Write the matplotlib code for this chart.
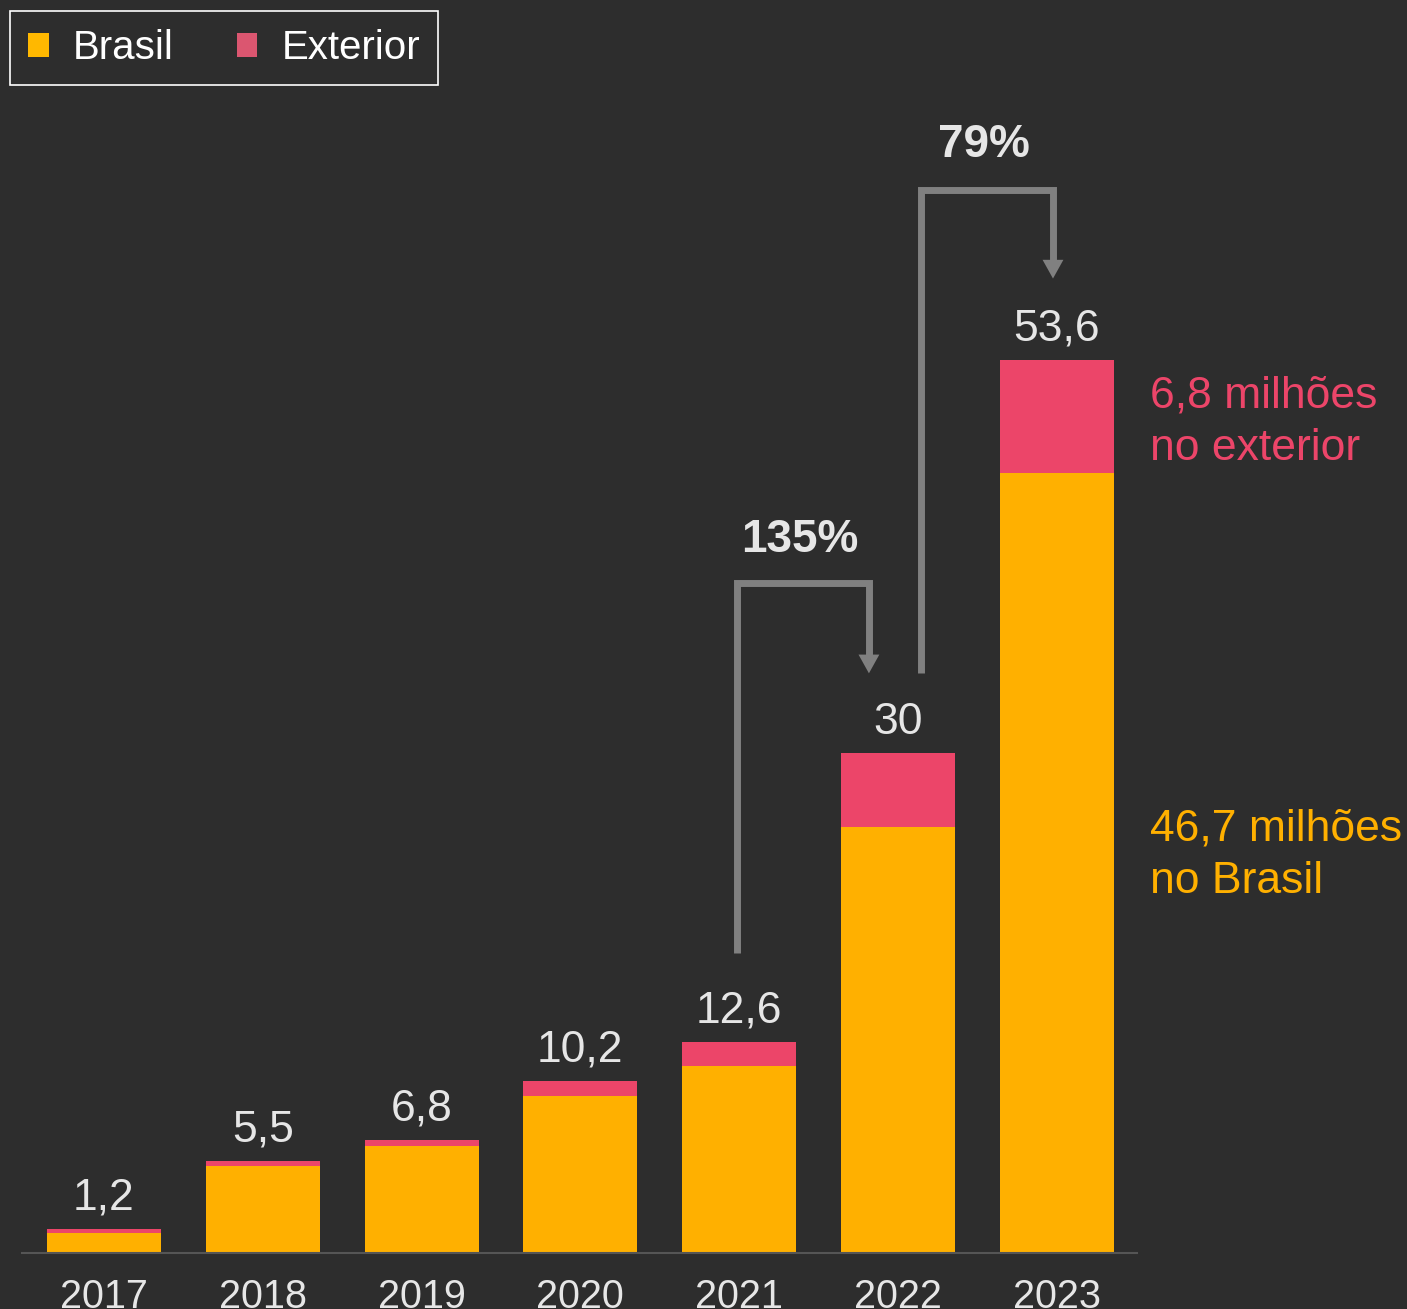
import matplotlib
matplotlib.use("Agg")
import matplotlib.pyplot as plt
from matplotlib.patches import Patch

# data (milhões)
anos = ["2017", "2018", "2019", "2020", "2021", "2022", "2023"]
brasil = [1.2, 5.2, 6.4, 9.4, 11.2, 25.6, 46.8]
exterior = [0.25, 0.3, 0.4, 0.9, 1.45, 4.4, 6.8]
rotulos = ["1,2", "5,5", "6,8", "10,2", "12,6", "30", "53,6"]

BG = "#2d2d2d"
AMARELO = "#ffb000"
VERMELHO = "#ec4569"
CINZA = "#808080"
TEXTO = "#e6e6e6"

plt.rcParams["font.family"] = ["Liberation Sans", "DejaVu Sans"]

fig = plt.figure(figsize=(14.07, 13.09), dpi=100, facecolor=BG)
ax = fig.add_axes([22 / 1407, 56 / 1309, (1137 - 22) / 1407, (1253 - 87) / 1309])
ax.set_facecolor(BG)

x = list(range(len(anos)))
ax.bar(x, brasil, width=0.718, color=AMARELO)
ax.bar(x, exterior, width=0.718, bottom=brasil, color=VERMELHO)

for i, lab in enumerate(rotulos):
    ax.annotate(lab, (x[i], brasil[i] + exterior[i]), xytext=(0, 14),
                textcoords="offset points", ha="center", va="baseline",
                fontsize=32, color=TEXTO)

ax.set_xlim(-0.516, 6.505)
ax.set_ylim(0, 70)
ax.set_xticks(x)
ax.set_xticklabels(anos, fontsize=28.5, color=TEXTO)
ax.tick_params(axis="x", length=0, pad=18)
ax.set_yticks([])
for s in ["top", "right", "left"]:
    ax.spines[s].set_visible(False)
ax.spines["bottom"].set_color("#555555")
ax.spines["bottom"].set_linewidth(1.5)


def seta_crescimento(x0, y0, ytopo, x1, ypont, texto, xtexto, ytexto):
    cab = 1.1  # comprimento da cabeça em unidades de dados
    ax.plot([x0, x0, x1, x1], [y0, ytopo, ytopo, ypont + cab], color=CINZA,
            lw=5, solid_joinstyle="miter", solid_capstyle="butt", clip_on=False)
    ax.annotate("", xy=(x1, ypont), xytext=(x1, ypont + cab),
                arrowprops=dict(arrowstyle="-|>,head_length=1.35,head_width=0.75",
                                color=CINZA, lw=0, shrinkA=0, shrinkB=0,
                                mutation_scale=10),
                annotation_clip=False)
    ax.text(xtexto, ytexto, texto, ha="center", va="center", fontsize=33,
            fontweight="bold", color=TEXTO, clip_on=False)


seta_crescimento(3.986, 18.0, 40.2, 4.817, 34.8, "135%", 4.38, 42.8)
seta_crescimento(5.145, 34.8, 63.8, 5.976, 58.5, "79%", 5.54, 66.5)

ax.text(6.585, 49.9, "6,8 milhões\nno exterior", ha="left", va="center",
        fontsize=32, color=VERMELHO, linespacing=1.36, clip_on=False)
ax.text(6.585, 23.9, "46,7 milhões\nno Brasil", ha="left", va="center",
        fontsize=32, color=AMARELO, linespacing=1.36, clip_on=False)

handles = [Patch(facecolor="#ffb800", label="Brasil"),
           Patch(facecolor="#db5670", label="Exterior")]
leg = fig.legend(handles=handles, loc="upper left",
                 bbox_to_anchor=(10 / 1407, 1 - 11 / 1309), ncol=2,
                 fontsize=29, handlelength=0.52, handleheight=0.52,
                 handletextpad=0.6, columnspacing=1.55, borderpad=0.45,
                 borderaxespad=0,
                 fancybox=False, framealpha=1, facecolor=BG, edgecolor="white")
leg.get_frame().set_linewidth(1.2)
for t in leg.get_texts():
    t.set_color("white")

fig.savefig("out.png", dpi=100, facecolor=BG)
